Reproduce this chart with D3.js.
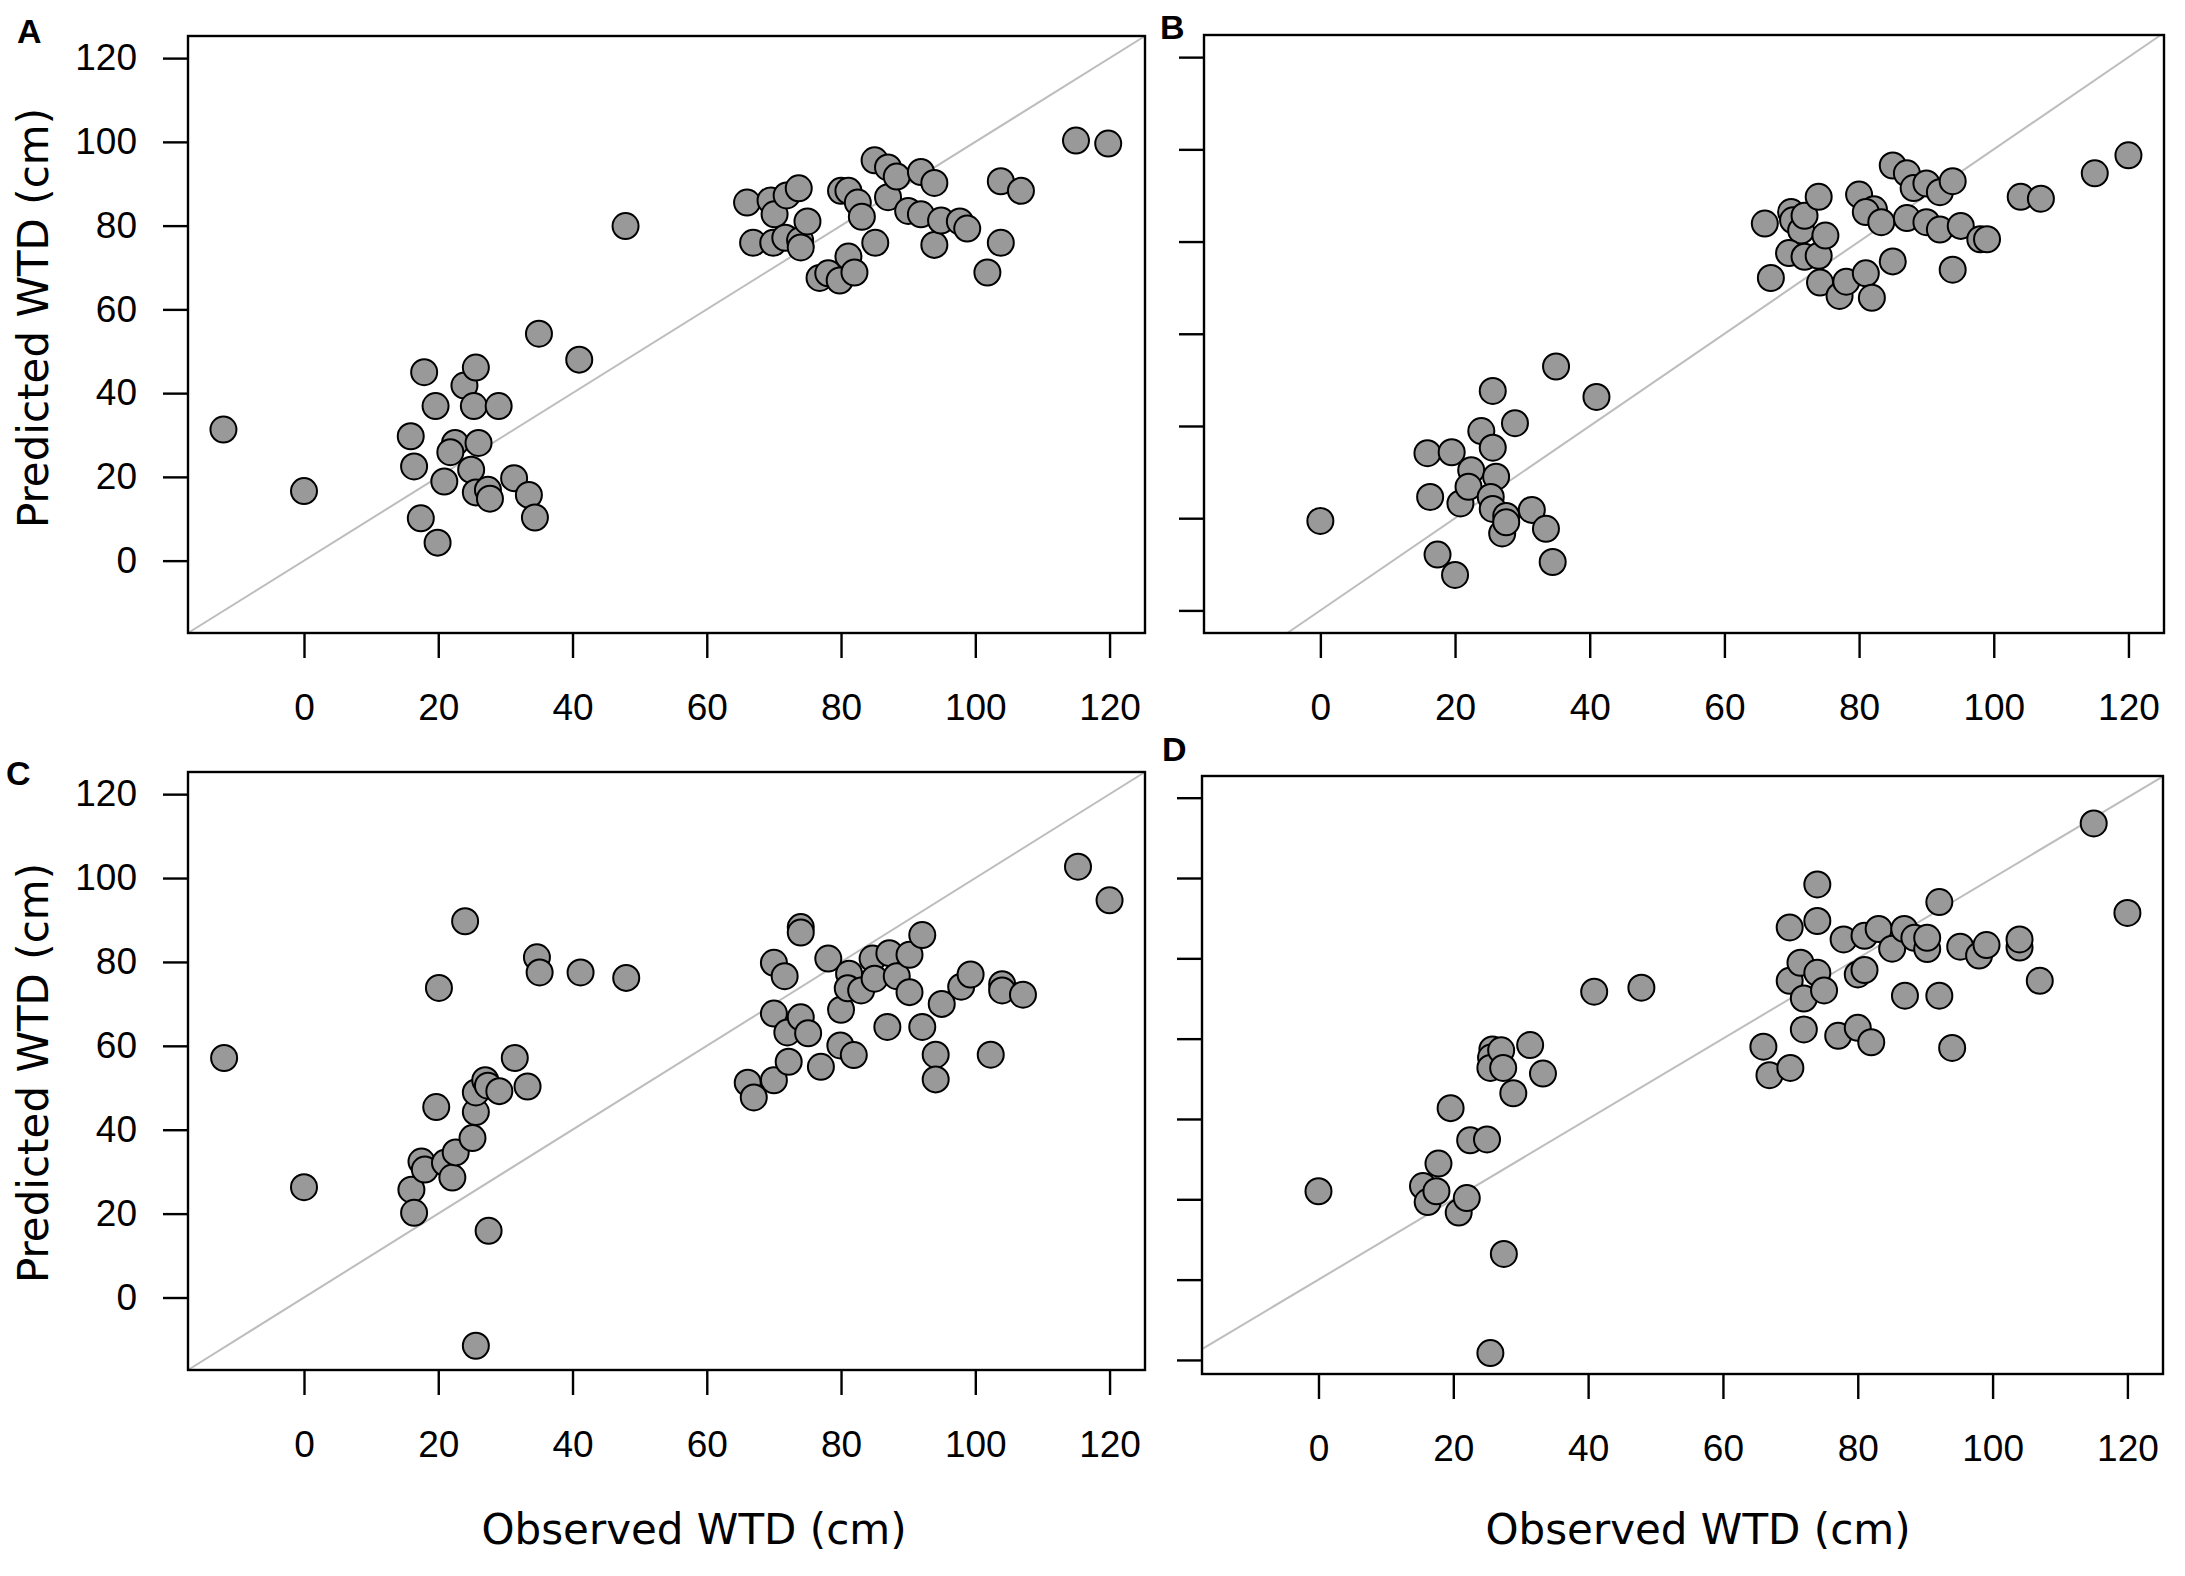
<!DOCTYPE html>
<html>
<head>
<meta charset="utf-8">
<script src="https://cdn.jsdelivr.net/npm/d3@7"></script>
<style>
  body { margin: 0; background: #fff; }
  .tick-label { font-family: "Liberation Sans", Arial, sans-serif; font-size: 37px; fill: #000; }
  .axis-title { font-family: "DejaVu Sans", Verdana, sans-serif; font-size: 42px; fill: #000; }
  .panel-letter { font-family: "Liberation Sans", Arial, sans-serif; font-size: 34px; font-weight: bold; fill: #000; }
</style>
</head>
<body>
<script>
// Observed vs predicted WTD, four panels

var width = 2185;
var height = 1576;

var xTicks = [0, 20, 40, 60, 80, 100, 120];
var yTicks = [0, 20, 40, 60, 80, 100, 120];
var yTicksD = [-20, 0, 20, 40, 60, 80, 100, 120];

var obsA = [-12, 0, 15.9, 16.4, 17.4, 17.9, 19.6, 19.9, 20.9, 22.5, 21.8, 23.9, 25.6, 25.3, 26.0, 24.9, 25.6, 27.4, 27.7, 29.0, 31.3, 33.5, 34.4, 35.0, 41.0, 47.9,
  66.0, 66.9, 69.5, 70.1, 69.9, 71.9, 71.7, 73.7, 73.9, 74.0, 75.0, 76.8, 78.1, 79.8, 80.0, 81.1, 81.1, 82.0, 82.5, 83.1, 85.0, 85.1, 87.0, 87.0,
  88.3, 90.0, 91.9, 91.9, 93.9, 93.9, 94.9, 97.7, 98.8, 101.8, 103.8, 103.8, 106.8, 115.0, 119.8];
var predA = [31.3, 16.6, 29.7, 22.5, 10.1, 45.0, 36.9, 4.3, 18.9, 28.1, 25.9, 41.8, 46.1, 36.9, 28.1, 21.7, 16.3, 16.9, 14.8, 36.9, 19.7, 15.7, 10.3, 54.2, 48.0, 79.9,
  85.5, 75.9, 86.0, 82.7, 75.9, 87.2, 77.1, 88.9, 76.5, 74.8, 81.0, 67.5, 68.6, 66.9, 88.3, 88.3, 72.6, 68.8, 85.5, 82.1, 95.6, 75.9, 93.9, 86.8,
  91.7, 83.5, 92.8, 82.7, 90.2, 75.4, 81.2, 81.0, 79.3, 68.8, 90.6, 75.9, 88.3, 100.3, 99.6];

var obsB = [0, 15.9, 16.3, 17.4, 19.5, 20.0, 20.8, 22.4, 22.0, 23.9, 25.6, 25.6, 26.1, 25.3, 25.6, 27.0, 27.6, 27.6, 28.9, 31.4, 33.5, 34.5, 35.0, 41.0,
  66.0, 66.9, 69.9, 70.2, 71.4, 69.6, 71.9, 71.9, 74.0, 74.0, 75.0, 74.2, 77.1, 78.1, 80.0, 81.0, 81.9, 82.2, 81.0, 83.3, 85.0, 85.0, 87.1, 87.1,
  88.1, 90.0, 90.0, 92.0, 92.0, 93.9, 93.9, 95.1, 98.0, 99.0, 104.0, 107.0, 115.0, 120.0];
var predB = [19.4, 34.1, 24.6, 12.1, 34.3, 7.7, 23.2, 30.4, 26.8, 38.9, 47.6, 35.3, 29.0, 24.6, 22.0, 16.7, 20.5, 19.1, 40.6, 21.8, 17.7, 10.5, 52.9, 46.3,
  83.9, 72.1, 86.4, 84.6, 82.4, 77.5, 85.6, 76.7, 89.7, 76.9, 81.3, 71.1, 68.2, 71.3, 90.2, 73.1, 67.8, 87.0, 86.4, 84.2, 96.5, 75.7, 94.8, 85.1,
  91.6, 92.6, 84.2, 90.7, 82.6, 93.1, 73.9, 83.4, 80.5, 80.5, 89.7, 89.3, 94.8, 98.7];

var obsC = [-11.9, 0, 16.0, 16.4, 17.5, 18.0, 19.7, 20.1, 21.0, 22.1, 22.6, 24.0, 25.1, 25.6, 25.6, 25.6, 27.0, 27.5, 27.4, 29.1, 31.4, 33.3, 34.7, 35.1, 41.2, 48.0,
  66.1, 67.0, 70.0, 70.0, 70.0, 71.6, 72.0, 72.2, 74.0, 74.0, 74.0, 75.1, 77.0, 78.1, 79.9, 80.0, 81.2, 81.0, 81.9, 83.0, 84.7, 85.0, 86.9, 87.2,
  88.3, 90.2, 90.2, 92.1, 92.1, 94.1, 94.1, 95.0, 97.9, 99.3, 102.3, 104.0, 104.0, 107.1, 115.3, 120.0];
var predC = [57.1, 26.3, 25.7, 20.2, 32.4, 30.5, 45.4, 73.8, 32.1, 28.6, 34.6, 89.7, 38.0, 44.2, 48.9, -11.5, 51.8, 15.9, 50.5, 49.2, 57.1, 50.3, 81.1, 77.5, 77.5, 76.2,
  51.2, 47.7, 79.8, 67.7, 51.8, 76.6, 63.2, 56.2, 88.3, 87.0, 66.8, 63.0, 55.0, 80.8, 60.1, 68.6, 77.2, 73.7, 57.8, 73.2, 80.8, 76.0, 64.5, 82.1,
  76.6, 81.7, 72.8, 86.4, 64.5, 57.9, 52.0, 70.0, 74.1, 77.0, 57.9, 74.7, 73.2, 72.2, 102.7, 94.7];

var obsD = [0, 15.5, 16.2, 17.5, 17.8, 19.6, 20.8, 22.0, 22.5, 25.0, 25.5, 25.8, 25.6, 25.5, 27.1, 27.4, 27.5, 28.9, 31.4, 33.3, 40.9, 47.9,
  66.0, 66.9, 70.0, 69.9, 69.9, 71.5, 72.0, 72.0, 74.0, 74.0, 74.0, 75.0, 77.1, 77.9, 80.0, 80.0, 81.0, 81.0, 82.0, 83.1, 85.1, 86.9, 87.0,
  88.4, 90.3, 90.3, 92.1, 92.1, 94.0, 95.2, 98.0, 99.1, 104.0, 104.0, 107.0, 115.0, 120.0];
var predD = [22.0, 23.3, 19.3, 22.0, 28.9, 42.7, 16.7, 20.3, 34.7, 34.9, -18.3, 57.3, 55.3, 52.7, 57.1, 52.7, 6.4, 46.4, 58.4, 51.3, 71.7, 72.7,
  58.0, 50.9, 52.7, 87.7, 74.4, 78.9, 70.0, 62.3, 98.4, 89.3, 76.4, 72.0, 60.7, 84.7, 62.7, 76.0, 85.6, 77.1, 59.1, 87.3, 82.4, 87.3, 70.7,
  85.1, 82.3, 85.1, 94.0, 70.7, 57.7, 82.9, 80.7, 83.3, 82.7, 84.7, 74.4, 113.6, 91.3];

var xDomain = [-17.28, 125.28];

var panels = [
  {letter: "A", obs: obsA, pred: predA, left: 188, right: 1145, top: 36, bottom: 633,
   yDomain: [-17.28, 125.28], yTicks: yTicks, yLabels: true, lx: 17, ly: 43},
  {letter: "B", obs: obsB, pred: predB, left: 1204, right: 2164, top: 35, bottom: 633,
   yDomain: [-4.9, 124.8], yTicks: yTicks, yLabels: false, lx: 1160, ly: 39},
  {letter: "C", obs: obsC, pred: predC, left: 188, right: 1145, top: 772, bottom: 1370,
   yDomain: [-17.28, 125.28], yTicks: yTicks, yLabels: true, lx: 6, ly: 785},
  {letter: "D", obs: obsD, pred: predD, left: 1202, right: 2163, top: 776, bottom: 1374,
   yDomain: [-23.5, 125.4], yTicks: yTicksD, yLabels: false, lx: 1162, ly: 761}
];

var svg = d3.select("body")
  .append("svg")
  .attr("width", width)
  .attr("height", height);

svg.append("rect")
  .attr("width", width)
  .attr("height", height)
  .attr("fill", "#fff");

panels.forEach(function(p) {
  var xScale = d3.scaleLinear().domain(xDomain).range([p.left, p.right]);
  var yScale = d3.scaleLinear().domain(p.yDomain).range([p.bottom, p.top]);
  var g = svg.append("g");

  // 1:1 line, clipped to the box
  var lo = Math.max(xDomain[0], p.yDomain[0]);
  var hi = Math.min(xDomain[1], p.yDomain[1]);
  g.append("line")
    .attr("x1", xScale(lo)).attr("y1", yScale(lo))
    .attr("x2", xScale(hi)).attr("y2", yScale(hi))
    .attr("stroke", "#bdbdbd")
    .attr("stroke-width", 2);

  var pts = p.obs.map(function(d, i) { return {obs: d, pred: p.pred[i]}; });

  g.selectAll("circle")
    .data(pts)
    .enter()
    .append("circle")
    .attr("cx", function(d) { return xScale(d.obs); })
    .attr("cy", function(d) { return yScale(d.pred); })
    .attr("r", 13)
    .attr("fill", "#999999")
    .attr("stroke", "#000")
    .attr("stroke-width", 2);

  // x axis: ticks hang from box, labels set further down
  var xAxis = d3.axisBottom(xScale)
    .tickValues(xTicks)
    .tickSize(25)
    .tickPadding(36)
    .tickFormat(d3.format("d"));
  var gx = g.append("g")
    .attr("transform", "translate(0," + p.bottom + ")")
    .call(xAxis);
  gx.select(".domain").remove();
  gx.selectAll(".tick line").attr("stroke", "#000").attr("stroke-width", 2.4);
  gx.selectAll(".tick text")
    .attr("class", "tick-label")
    .attr("font-family", null)
    .attr("font-size", null)
    .attr("dy", null)
    .attr("y", 87);

  var yAxis = d3.axisLeft(yScale)
    .tickValues(p.yTicks)
    .tickSize(25)
    .tickPadding(26)
    .tickFormat(p.yLabels ? d3.format("d") : "");
  var gy = g.append("g")
    .attr("transform", "translate(" + p.left + ",0)")
    .call(yAxis);
  gy.select(".domain").remove();
  gy.selectAll(".tick line").attr("stroke", "#000").attr("stroke-width", 2.4);
  gy.selectAll(".tick text")
    .attr("class", "tick-label")
    .attr("font-family", null)
    .attr("font-size", null);

  g.append("rect")
    .attr("x", p.left).attr("y", p.top)
    .attr("width", p.right - p.left)
    .attr("height", p.bottom - p.top)
    .attr("fill", "none")
    .attr("stroke", "#000")
    .attr("stroke-width", 2.4);

  svg.append("text")
    .attr("class", "panel-letter")
    .attr("x", p.lx).attr("y", p.ly)
    .text(p.letter);
});

// axis titles
[318, 1073].forEach(function(cy) {
  svg.append("text")
    .attr("class", "axis-title")
    .attr("text-anchor", "middle")
    .attr("transform", "translate(48," + cy + ") rotate(-90)")
    .text("Predicted WTD (cm)");
});

[694, 1698].forEach(function(cx) {
  svg.append("text")
    .attr("class", "axis-title")
    .attr("text-anchor", "middle")
    .attr("x", cx).attr("y", 1544)
    .text("Observed WTD (cm)");
});
</script>
</body>
</html>
